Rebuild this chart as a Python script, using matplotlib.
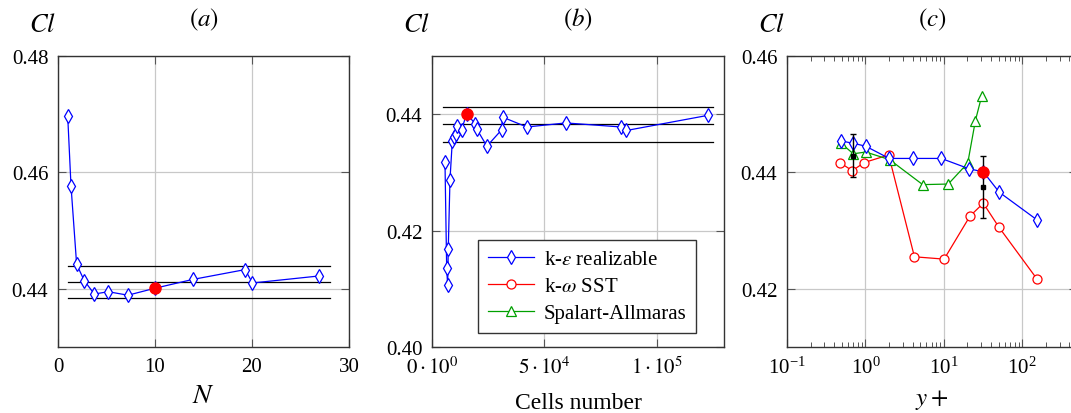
import matplotlib
matplotlib.use("Agg")
import matplotlib.pyplot as plt
from matplotlib.ticker import FormatStrFormatter

plt.rcParams['font.family'] = ['Liberation Serif', 'DejaVu Serif']
plt.rcParams['mathtext.fontset'] = 'stix'
plt.rcParams['font.size'] = 15

# (a) Cl against N
n_vals = [1.0, 1.34, 1.92, 2.71, 3.74, 5.18, 7.21, 10.0, 13.87, 19.29, 20.05, 26.88]
cl_n = [0.4697, 0.4577, 0.4442, 0.4414, 0.4391, 0.4395, 0.4389, 0.4401, 0.4416, 0.4433, 0.4410, 0.4422]
band_a = [0.4384, 0.4412, 0.4440]
band_a_x = [1.0, 28.0]

# (b) Cl against the number of cells
cells = [5778, 6533, 6978, 7244, 8000, 9037, 9778, 10519, 11259, 13185, 15407,
         19111, 19852, 24444, 30963, 31407, 42222, 59556, 84296, 86519, 122815]
cl_cells = [0.4318, 0.4135, 0.4106, 0.4169, 0.4287, 0.4354, 0.4360, 0.4366, 0.4379, 0.4373, 0.4401,
            0.4384, 0.4375, 0.4345, 0.4373, 0.4395, 0.4378, 0.4385, 0.4378, 0.4372, 0.4398]
band_b = [0.4353, 0.4383, 0.4413]
band_b_x = [5000, 125000]

# (c) Cl against y+ for the three turbulence models
yplus_ke = [0.49, 0.70, 1.01, 2.01, 4.06, 9.28, 21.2, 31.9, 50.9, 156]
cl_ke = [0.4454, 0.4450, 0.4445, 0.4424, 0.4424, 0.4424, 0.4406, 0.4401, 0.4366, 0.4318]
yplus_kw = [0.47, 0.68, 0.97, 1.98, 4.22, 10.1, 21.6, 31.9, 50.4, 154]
cl_kw = [0.4417, 0.4403, 0.4417, 0.4430, 0.4255, 0.4251, 0.4325, 0.4347, 0.4306, 0.4217]
yplus_sa = [0.49, 0.70, 1.01, 2.03, 5.38, 11.4, 20.2, 25.3, 30.4]
cl_sa = [0.4450, 0.4432, 0.4435, 0.4422, 0.4379, 0.4380, 0.4416, 0.4489, 0.4531]
exp_yplus = [0.70, 31.9]
exp_cl = [0.4429, 0.4375]
exp_err = [0.0037, 0.0053]

# reference case (red dot)
ref_n = 10.0
ref_cells = 15407
ref_yplus = 31.9
ref_cl = 0.4401

W, H = 1071, 414
fig = plt.figure(figsize=(W / 100, H / 100), dpi=100)


def make_axes(left, right, top=57, bottom=348):
    return fig.add_axes([left / W, 1 - bottom / H, (right - left) / W, (bottom - top) / H])


def style(ax, label, xlabel, xlab_y, xlab_size, left_px):
    ax.grid(True, color='#c8c8c8', lw=0.9)
    ax.set_axisbelow(True)
    ax.tick_params(direction='in', which='major', top=True, right=True,
                   length=6, width=0.8, color='#555555', pad=7)
    ax.tick_params(direction='in', which='minor', top=True, right=True,
                   length=3.5, width=0.7, color='#555555')
    for s in ax.spines.values():
        s.set_color('#333333')
        s.set_linewidth(1.0)
    ax.yaxis.set_major_formatter(FormatStrFormatter('%.2f'))
    ax.text(0.5, 1.127, label, transform=ax.transAxes, ha='center', va='center', fontsize=18)
    ax.text(0.5, xlab_y, xlabel, transform=ax.transAxes, ha='center', va='center',
            fontsize=xlab_size)
    fig.text((left_px - 16) / W, 1 - 25 / H, r'$Cl$', ha='center', va='center', fontsize=19)


mk = dict(mfc='white', lw=0.9)

# ---- (a)
ax1 = make_axes(58, 349)
for y in band_a:
    ax1.plot(band_a_x, [y, y], color='black', lw=0.9, zorder=2)
ax1.plot(n_vals, cl_n, color='blue', marker='d', ms=7.5, mew=0.9, zorder=3, **mk)
ax1.plot([ref_n], [ref_cl], 'o', color='red', ms=8, zorder=4)
ax1.set_xlim(0, 30)
ax1.set_ylim(0.43, 0.48)
ax1.set_xticks([0, 10, 20, 30])
ax1.set_yticks([0.44, 0.46, 0.48])
style(ax1, r'$(a)$', r'$N$', -0.168, 20, 58)

# ---- (b)
ax2 = make_axes(432, 724)
for y in band_b:
    ax2.plot(band_b_x, [y, y], color='black', lw=0.9, zorder=2)
h_ke, = ax2.plot(cells, cl_cells, color='blue', marker='d', ms=7.5, mew=0.9, zorder=3, **mk)
ax2.plot([ref_cells], [ref_cl], 'o', color='red', ms=8, zorder=4)
h_kw, = ax2.plot([], [], color='red', marker='o', ms=6.5, mew=0.9, **mk)
h_sa, = ax2.plot([], [], color='#00a000', marker='^', ms=7, mew=0.9, **mk)
ax2.set_xlim(0, 1.3e5)
ax2.set_ylim(0.40, 0.45)
ax2.set_xticks([0, 5e4, 1e5])
ax2.set_xticklabels([r'$0\cdot10^{0}$', r'$5\cdot10^{4}$', r'$1\cdot10^{5}$'])
ax2.set_yticks([0.40, 0.42, 0.44])
style(ax2, r'$(b)$', 'Cells number', -0.19, 17, 432)
leg = ax2.legend([h_ke, h_kw, h_sa],
                 [r'k-$\varepsilon$ realizable', r'k-$\omega$ SST', 'Spalart-Allmaras'],
                 loc='lower left', bbox_to_anchor=(0.123, 0.014), fancybox=False,
                 edgecolor='#333333', framealpha=1, handlelength=2.2, labelspacing=0.35,
                 borderpad=0.45, handletextpad=0.5, fontsize=15)
leg.get_frame().set_linewidth(1.0)
leg.set_zorder(5)

# ---- (c)
ax3 = make_axes(787, 1077)
ax3.set_xscale('log')
ax3.plot(yplus_kw, cl_kw, color='red', marker='o', ms=6.5, mew=0.9, zorder=3, **mk)
ax3.plot(yplus_sa, cl_sa, color='#00a000', marker='^', ms=7, mew=0.9, zorder=3, **mk)
ax3.plot(yplus_ke, cl_ke, color='blue', marker='d', ms=7.5, mew=0.9, zorder=3, **mk)
ax3.errorbar(exp_yplus, exp_cl, yerr=exp_err, fmt='s', color='black', ms=3,
             elinewidth=1.0, capsize=2.5, capthick=1.0, zorder=4)
ax3.plot([ref_yplus], [ref_cl], 'o', color='red', ms=8, zorder=5)
ax3.set_xlim(0.1, 500)
ax3.set_ylim(0.41, 0.46)
ax3.set_yticks([0.42, 0.44, 0.46])
style(ax3, r'$(c)$', r'$y+$', -0.178, 18, 787)

fig.savefig('out.png', dpi=100)
